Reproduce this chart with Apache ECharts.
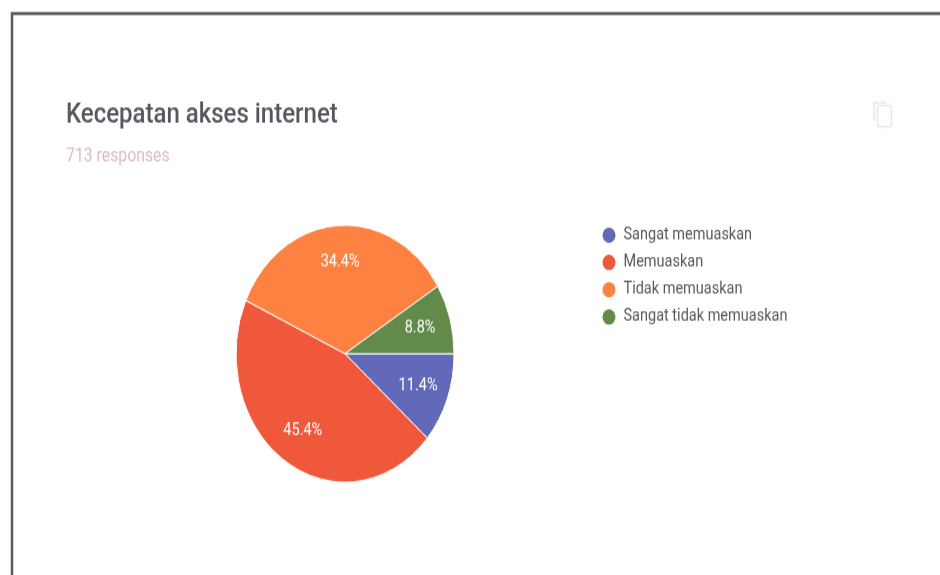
<!DOCTYPE html>
<html>
<head>
<meta charset="utf-8">
<style>
html,body{margin:0;padding:0;background:#fff;overflow:hidden;width:940px;height:575px}
#c{width:940px;height:488px;transform-origin:0 0;transform:scaleY(1.179)}
</style>
<script src="https://cdn.jsdelivr.net/npm/echarts@6/dist/echarts.min.js"></script>
</head>
<body>
<div id="c"></div>
<script>
const categories = ['Sangat memuaskan', 'Memuaskan', 'Tidak memuaskan', 'Sangat tidak memuaskan'];
const percentages = [11.4, 45.4, 34.4, 8.8];
const colors = ['#6269b8', '#f0583c', '#fd8242', '#628a4a'];
const chartTitle = 'Kecepatan akses internet';
const responses = '713 responses';

const chart = echarts.init(document.getElementById('c'), null, {renderer: 'canvas'});
const cx = 345, cy = 300, R = 109, labelR = 78;
const total = percentages.reduce((a, b) => a + b, 0);
function midAngle(i) {
  const before = percentages.slice(0, i).reduce((a, b) => a + b, 0);
  return (before + percentages[i] / 2) / total * 2 * Math.PI;
}
chart.setOption({
  animation: false,
  backgroundColor: '#fff',
  title: [
    {text: chartTitle, left: 61, top: 81, textStyle: {fontFamily: 'Roboto', fontSize: 24, fontWeight: 500, color: '#5a5560'}},
    {text: responses, left: 61, top: 120, textStyle: {fontFamily: 'Roboto', fontSize: 15.8, fontWeight: 400, color: '#dcbcc6'}}
  ],
  legend: {
    orient: 'vertical', left: 595.5, top: 186, icon: 'circle', itemWidth: 15, itemHeight: 15, itemGap: 6.1,
    selectedMode: false, data: categories,
    textStyle: {fontFamily: 'Roboto', fontSize: 14.5, color: '#5c5660', lineHeight: 13, height: 13, padding: [0, 0, 0, 2]}
  },
  graphic: [
    {type: 'polyline', silent: true, shape: {points: [[12, 488], [12, 11.5], [940, 11.5]]}, style: {fill: 'none', stroke: '#5a5a5a', lineWidth: 2.5}},
    {type: 'rect', silent: true, shape: {x: 877.5, y: 89.5, width: 14, height: 18, r: 2}, style: {fill: 'none', stroke: '#f0e2ec', lineWidth: 1.5}},
    {type: 'polyline', silent: true, shape: {points: [[874, 103], [874, 87], [886, 87]]}, style: {fill: 'none', stroke: '#f0e2ec', lineWidth: 1.5}}
  ],
  series: [{
    type: 'pie',
    center: [cx, cy], radius: [0, R], startAngle: 0, clockwise: true, percentPrecision: 1,
    data: categories.map((name, i) => ({name, value: percentages[i], itemStyle: {color: colors[i]}})),
    itemStyle: {borderColor: '#fff', borderWidth: 1},
    label: {show: true, position: 'inside', formatter: '{d}%', color: '#fff', fontFamily: 'Roboto', fontSize: 14.5},
    labelLine: {show: false},
    emphasis: {disabled: true},
    labelLayout: function (p) {
      const a = midAngle(p.dataIndex);
      return {x: cx + Math.cos(a) * labelR, y: cy + Math.sin(a) * labelR, align: 'center', verticalAlign: 'middle'};
    }
  }]
});
</script>
</body>
</html>
